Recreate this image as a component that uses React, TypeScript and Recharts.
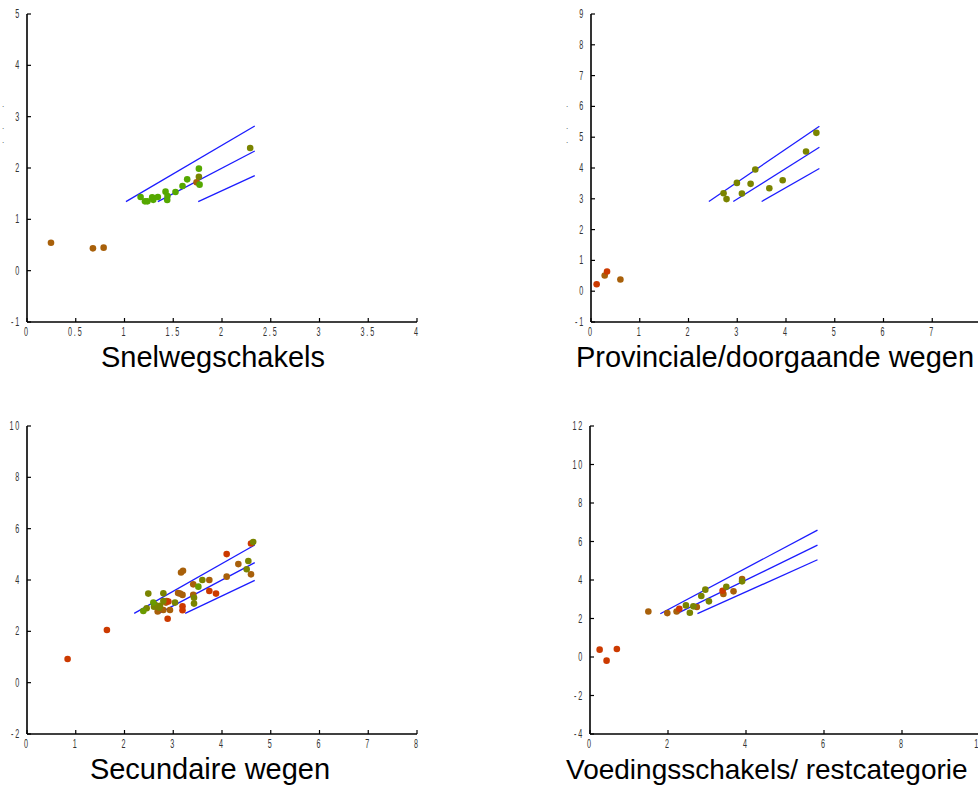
import React from 'react';
import { ScatterChart, Scatter, XAxis, YAxis } from 'recharts';

type P = { x: number; y: number };

// ---------- Snelwegschakels ----------
const snelBrown: P[] = [
  { x: 0.246, y: 0.545 }, { x: 0.676, y: 0.435 }, { x: 0.786, y: 0.448 }, { x: 1.739, y: 1.72 },
];
const snelGreen: P[] = [
  { x: 1.165, y: 1.435 }, { x: 1.21, y: 1.35 }, { x: 1.235, y: 1.35 }, { x: 1.284, y: 1.43 },
  { x: 1.295, y: 1.38 }, { x: 1.342, y: 1.435 }, { x: 1.421, y: 1.539 }, { x: 1.441, y: 1.455 },
  { x: 1.438, y: 1.377 }, { x: 1.523, y: 1.532 }, { x: 1.595, y: 1.649 }, { x: 1.643, y: 1.779 },
  { x: 1.763, y: 1.987 }, { x: 1.77, y: 1.676 },
];
const snelOlive: P[] = [{ x: 1.763, y: 1.83 }, { x: 2.289, y: 2.39 }];
const snelUpper: P[] = [{ x: 1.015, y: 1.344 }, { x: 2.336, y: 2.818 }];
const snelMid: P[] = [{ x: 1.342, y: 1.344 }, { x: 2.336, y: 2.331 }];
const snelLower: P[] = [{ x: 1.756, y: 1.344 }, { x: 2.336, y: 1.851 }];
const snelXTicks = [0, 0.5, 1, 1.5, 2, 2.5, 3, 3.5, 4];
const snelYTicks = [-1, 0, 1, 2, 3, 4, 5];

// ---------- Provinciale/doorgaande wegen ----------
const provRed: P[] = [{ x: 0.116, y: 0.227 }, { x: 0.329, y: 0.639 }];
const provBrown: P[] = [{ x: 0.281, y: 0.509 }, { x: 0.603, y: 0.379 }];
const provOlive: P[] = [
  { x: 2.719, y: 3.18 }, { x: 2.78, y: 2.99 }, { x: 2.993, y: 3.517 }, { x: 3.096, y: 3.171 },
  { x: 3.274, y: 3.485 }, { x: 3.37, y: 3.95 }, { x: 3.658, y: 3.344 }, { x: 3.932, y: 3.604 },
  { x: 4.411, y: 4.535 }, { x: 4.623, y: 5.141 },
];
const provUpper: P[] = [{ x: 2.418, y: 2.911 }, { x: 4.685, y: 5.357 }];
const provMid: P[] = [{ x: 2.918, y: 2.911 }, { x: 4.685, y: 4.675 }];
const provLower: P[] = [{ x: 3.5, y: 2.911 }, { x: 4.685, y: 3.983 }];
const provXTicks = [0, 1, 2, 3, 4, 5, 6, 7, 8];
const provYTicks = [-1, 0, 1, 2, 3, 4, 5, 6, 7, 8, 9];

// ---------- Secundaire wegen ----------
const secRed: P[] = [
  { x: 0.833, y: 0.922 }, { x: 1.639, y: 2.052 }, { x: 2.885, y: 2.49 }, { x: 4.096, y: 5.01 },
  { x: 4.595, y: 5.42 }, { x: 3.74, y: 3.57 }, { x: 3.877, y: 3.47 }, { x: 3.19, y: 2.98 },
  { x: 3.19, y: 2.82 }, { x: 2.9, y: 3.16 },
];
const secBrown: P[] = [
  { x: 3.16, y: 4.29 }, { x: 3.2, y: 4.36 }, { x: 4.335, y: 4.62 }, { x: 4.595, y: 4.22 },
  { x: 4.096, y: 4.13 }, { x: 3.74, y: 4.0 }, { x: 3.41, y: 3.83 }, { x: 3.41, y: 3.42 },
  { x: 3.19, y: 3.42 }, { x: 3.1, y: 3.49 }, { x: 3.14, y: 3.47 }, { x: 2.933, y: 2.83 },
  { x: 2.865, y: 3.18 }, { x: 2.85, y: 3.12 }, { x: 2.797, y: 2.83 }, { x: 2.68, y: 2.77 },
];
const secOlive: P[] = [
  { x: 2.488, y: 3.47 }, { x: 2.797, y: 3.48 }, { x: 4.64, y: 5.48 }, { x: 4.54, y: 4.74 },
  { x: 4.506, y: 4.42 }, { x: 3.597, y: 4.0 }, { x: 3.426, y: 3.31 }, { x: 3.426, y: 3.08 },
  { x: 3.036, y: 3.12 }, { x: 2.797, y: 3.18 }, { x: 2.728, y: 2.99 }, { x: 2.714, y: 2.92 },
  { x: 2.626, y: 3.03 }, { x: 2.605, y: 2.96 }, { x: 2.455, y: 2.9 },
];
const secGreen: P[] = [{ x: 3.515, y: 3.74 }, { x: 2.592, y: 3.12 }, { x: 2.386, y: 2.79 }];
const secUpper: P[] = [{ x: 2.199, y: 2.701 }, { x: 4.672, y: 5.364 }];
const secMid: P[] = [{ x: 2.705, y: 2.701 }, { x: 4.672, y: 4.675 }];
const secLower: P[] = [{ x: 3.245, y: 2.701 }, { x: 4.672, y: 3.987 }];
const secXTicks = [0, 1, 2, 3, 4, 5, 6, 7, 8];
const secYTicks = [-2, 0, 2, 4, 6, 8, 10];

// ---------- Voedingsschakels/ restcategorie ----------
const voedRed: P[] = [
  { x: 0.247, y: 0.381 }, { x: 0.425, y: -0.19 }, { x: 0.689, y: 0.415 }, { x: 2.29, y: 2.51 },
  { x: 3.4, y: 3.44 },
];
const voedBrown: P[] = [
  { x: 1.496, y: 2.36 }, { x: 1.982, y: 2.28 }, { x: 2.22, y: 2.36 }, { x: 2.74, y: 2.6 },
  { x: 3.42, y: 3.27 }, { x: 3.68, y: 3.41 }, { x: 3.9, y: 4.05 },
];
const voedOlive: P[] = [
  { x: 2.46, y: 2.68 }, { x: 2.56, y: 2.3 }, { x: 2.65, y: 2.63 }, { x: 2.854, y: 3.17 },
  { x: 2.957, y: 3.5 }, { x: 3.05, y: 2.89 }, { x: 3.495, y: 3.65 }, { x: 3.9, y: 3.93 },
];
const voedUpper: P[] = [{ x: 1.803, y: 2.249 }, { x: 5.833, y: 6.592 }];
const voedMid: P[] = [{ x: 2.228, y: 2.249 }, { x: 5.833, y: 5.813 }];
const voedLower: P[] = [{ x: 2.755, y: 2.249 }, { x: 5.833, y: 5.052 }];
const voedXTicks = [0, 2, 4, 6, 8, 10];
const voedYTicks = [-4, -2, 0, 2, 4, 6, 8, 10, 12];

const titles = [
  'Snelwegschakels',
  'Provinciale/doorgaande wegen',
  'Secundaire wegen',
  'Voedingsschakels/ restcategorie',
];

const RED = '#cc3a00';
const BROWN = '#a8600a';
const OLIVE = '#7a8400';
const GREEN = '#55a800';
const BLUE = '#1c1cff';

const XTick = (props: any) => {
  const { x, y, payload } = props;
  return (
    <g>
      <line x1={x} x2={x} y1={y} y2={y - 4} stroke="#000" strokeWidth={1.2} />
      <text
        transform={`translate(${x},${y + 14}) scale(0.6,1)`}
        textAnchor="middle"
        fontSize={12}
        letterSpacing={3}
        fill="#333"
        stroke="none"
        fontFamily="Liberation Sans, Arial, sans-serif"
      >
        {String(payload.value)}
      </text>
    </g>
  );
};

const YTick = (props: any) => {
  const { x, y, payload } = props;
  return (
    <g>
      <line x1={x} x2={x + 4} y1={y} y2={y} stroke="#000" strokeWidth={1.2} />
      <text
        transform={`translate(${x - 6},${y + 4}) scale(0.6,1)`}
        textAnchor="end"
        fontSize={12}
        letterSpacing={3}
        fill="#333"
        stroke="none"
        fontFamily="Liberation Sans, Arial, sans-serif"
      >
        {String(payload.value)}
      </text>
    </g>
  );
};

const dot = (color: string) => (props: any) =>
  <circle cx={props.cx} cy={props.cy} r={3.3} fill={color} />;
const noDot = () => <g />;

type Series = { data: P[]; color: string };

const Panel = ({
  left, top, xTicks, yTicks, series, lines,
}: {
  left: number; top: number; xTicks: number[]; yTicks: number[]; series: Series[]; lines: P[][];
}) => (
  <div style={{ position: 'absolute', left, top }}>
    <ScatterChart width={430} height={350} margin={{ top: 14, right: 13, bottom: 8, left: 0 }}>
      <XAxis
        type="number"
        dataKey="x"
        domain={[xTicks[0], xTicks[xTicks.length - 1]]}
        ticks={xTicks}
        allowDataOverflow
        height={20}
        tickSize={0}
        tickMargin={0}
        tickLine={false}
        axisLine={{ stroke: '#000', strokeWidth: 1.6 }}
        tick={<XTick />}
        interval={0}
      />
      <YAxis
        type="number"
        dataKey="y"
        domain={[yTicks[0], yTicks[yTicks.length - 1]]}
        ticks={yTicks}
        allowDataOverflow
        width={27}
        tickSize={0}
        tickMargin={0}
        tickLine={false}
        axisLine={{ stroke: '#000', strokeWidth: 1.6 }}
        tick={<YTick />}
        interval={0}
      />
      {lines.map((l, i) => (
        <Scatter
          key={'l' + i}
          data={l}
          line={{ stroke: BLUE, strokeWidth: 1.3 }}
          shape={noDot}
          isAnimationActive={false}
        />
      ))}
      {series.map((s, i) => (
        <Scatter key={'s' + i} data={s.data} fill={s.color} shape={dot(s.color)} isAnimationActive={false} />
      ))}
    </ScatterChart>
  </div>
);

const titleStyle: React.CSSProperties = {
  position: 'absolute',
  fontFamily: 'Liberation Sans, Arial, sans-serif',
  fontSize: 29,
  lineHeight: '29px',
  color: '#000',
  whiteSpace: 'nowrap',
};

const Dots = ({ left }: { left: number }) => (
  <>
    {[101, 123, 137].map((t) => (
      <div key={t} style={{ position: 'absolute', left, top: t, fontSize: 8, lineHeight: '8px', color: '#333', fontFamily: 'Liberation Sans, Arial, sans-serif' }}>.</div>
    ))}
  </>
);

export default function App() {
  return (
    <div style={{ position: 'absolute', left: 0, top: 0, width: 978, height: 811, overflow: 'hidden', background: '#fff' }}>
      <Panel
        left={0} top={0} xTicks={snelXTicks} yTicks={snelYTicks}
        series={[{ data: snelBrown, color: BROWN }, { data: snelGreen, color: GREEN }, { data: snelOlive, color: OLIVE }]}
        lines={[snelUpper, snelMid, snelLower]}
      />
      <Panel
        left={564} top={0} xTicks={provXTicks} yTicks={provYTicks}
        series={[{ data: provBrown, color: BROWN }, { data: provRed, color: RED }, { data: provOlive, color: OLIVE }]}
        lines={[provUpper, provMid, provLower]}
      />
      <Panel
        left={0} top={412} xTicks={secXTicks} yTicks={secYTicks}
        series={[{ data: secBrown, color: BROWN }, { data: secRed, color: RED }, { data: secOlive, color: OLIVE }, { data: secGreen, color: '#6a9a00' }]}
        lines={[secUpper, secMid, secLower]}
      />
      <Panel
        left={563} top={412} xTicks={voedXTicks} yTicks={voedYTicks}
        series={[{ data: voedBrown, color: BROWN }, { data: voedRed, color: RED }, { data: voedOlive, color: OLIVE }]}
        lines={[voedUpper, voedMid, voedLower]}
      />
      <Dots left={2} />
      <Dots left={566} />
      <div style={{ ...titleStyle, left: 213, top: 343, transform: 'translateX(-50%)' }}>{titles[0]}</div>
      <div style={{ ...titleStyle, left: 775, top: 343, transform: 'translateX(-50%)' }}>{titles[1]}</div>
      <div style={{ ...titleStyle, left: 210, top: 755, transform: 'translateX(-50%)' }}>{titles[2]}</div>
      <div style={{ ...titleStyle, left: 566, top: 755, fontSize: 28 }}>{titles[3]}</div>
    </div>
  );
}
